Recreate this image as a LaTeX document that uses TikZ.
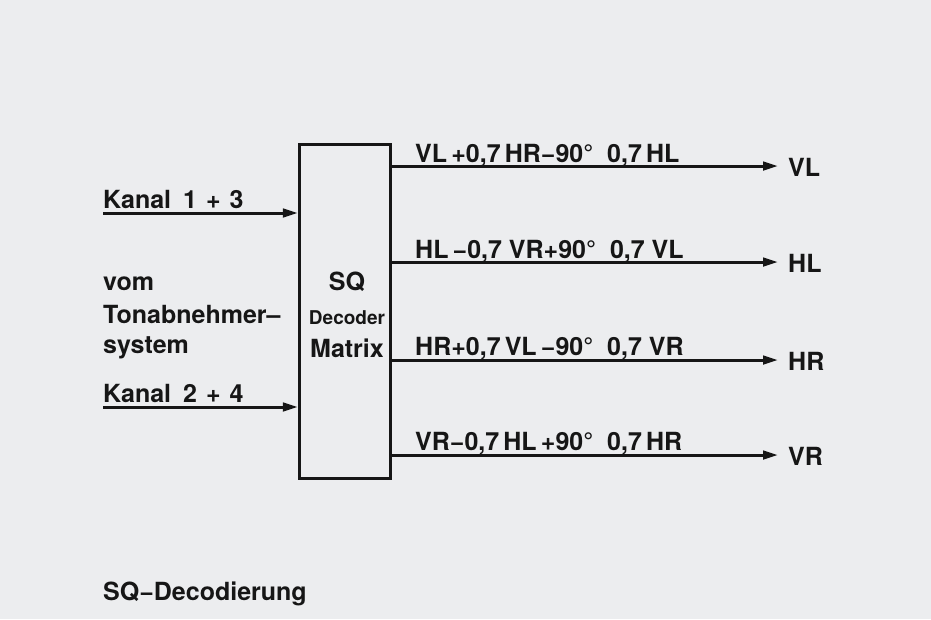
\documentclass[tikz,border=0pt]{standalone}
\usepackage{fontspec}
\setmainfont{TeX Gyre Heros}
\usetikzlibrary{arrows.meta}
\definecolor{papier}{RGB}{236,237,239}
\definecolor{tinte}{RGB}{22,22,22}

\begin{document}
\begin{tikzpicture}[x=1pt,y=-1pt,
    font=\fontsize{25}{29}\selectfont\bfseries,
    color=tinte,
    kasten/.style={draw,line width=3.4pt,inner sep=0pt,
                   minimum width=91pt,minimum height=334pt},
    pfeil/.style={line width=3pt,-{Triangle[length=15pt,width=8.5pt]}},
    txt/.style={anchor=base west,inner sep=0pt},
    ausg/.style={anchor=west,inner xsep=10pt,inner ysep=0pt}]

  \fill[papier] (0,0) rectangle (931,619);

  % Matrix
  \node[kasten] (matrix) at (345,311.5) {};
  \node[anchor=base,inner sep=0pt] (sq)  at (347,290) {SQ};
  \node[anchor=base,inner sep=0pt,font=\fontsize{19}{22}\selectfont\bfseries]
       (dec) at (347,324) {Decoder};
  \node[anchor=base,inner sep=0pt] (mat) at (347,357) {Matrix};

  % Eingaenge
  \coordinate (k13) at (103,213);
  \coordinate (k24) at (103,407);
  \node[txt] (t13) at (103,208) {Kanal\hspace{12pt}1\hspace{9pt}+\hspace{9pt}3};
  \node[txt] (t24) at (103,402) {Kanal\hspace{12pt}2\hspace{9pt}+\hspace{9pt}4};
  \node[txt] (vom) at (103,290) {vom};
  \node[txt] (ton) at (103,323) {Tonabnehmer–};
  \node[txt] (sys) at (103,353) {system};

  \draw[pfeil] (k13) -- (k13 -| matrix.west);
  \draw[pfeil] (k24) -- (k24 -| matrix.west);

  % Ausgaenge
  \coordinate (zvl) at (392,166);
  \coordinate (zhl) at (392,262);
  \coordinate (zhr) at (392,360);
  \coordinate (zvr) at (392,455);

  \node[ausg] (vl) at (778,167) {VL};
  \node[ausg] (hl) at (778,263) {HL};
  \node[ausg] (hr) at (778,361) {HR};
  \node[ausg] (vr) at (778,456) {VR};

  \draw[pfeil] (zvl) -- (zvl -| vl.west);
  \draw[pfeil] (zhl) -- (zhl -| hl.west);
  \draw[pfeil] (zhr) -- (zhr -| hr.west);
  \draw[pfeil] (zvr) -- (zvr -| vr.west);

  \node[txt] (fvl) at (415,162) {VL\,+0,7\,HR−90°\ \ 0,7\,HL};
  \node[txt] (fhl) at (415,258) {HL\,−0,7 VR+90°\ \ 0,7 VL};
  \node[txt] (fhr) at (415,355) {HR+0,7\,VL\,−90°\ \ 0,7 VR};
  \node[txt] (fvr) at (415,450) {VR−0,7\,HL\,+90°\ \ 0,7\,HR};

  \node[txt] (titel) at (103,600) {SQ−Decodierung};

\end{tikzpicture}
\end{document}
